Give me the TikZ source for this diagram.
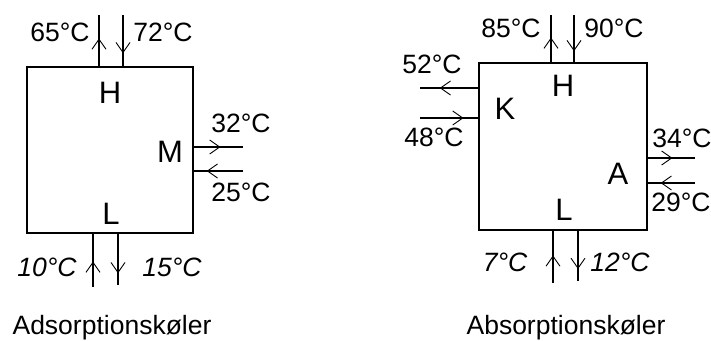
\documentclass[tikz,border=0pt]{standalone}
\usepackage{fontspec}
\setmainfont{Liberation Sans}
\usepackage{tikz}
\usetikzlibrary{arrows.meta,decorations.markings}

\tikzset{
  chev/.tip={Straight Barb[length=10pt,width=14pt,line width=0.9pt]},
  pipe/.style={line width=2.4pt,
    decoration={markings, mark=at position #1 with {\arrow{chev}}},
    postaction=decorate},
  unit/.style={draw, line width=2pt, inner sep=0pt, minimum height=167pt},
  temp/.style={font=\fontsize{26.5}{30}\selectfont},
  itemp/.style={font=\fontsize{26.5}{30}\selectfont\itshape},
  part/.style={font=\fontsize{31}{36}\selectfont},
  title/.style={font=\fontsize{26.5}{30}\selectfont, anchor=base},
}

\begin{document}
\begin{tikzpicture}[x=1pt, y=-1pt]
  \useasboundingbox (0,0) rectangle (711,340);

  % Adsorption chiller
  \node[unit, minimum width=166pt, minimum height=166pt] (ads) at (110,150) {};
  \node[part] (adsH) at (110,93) {H};
  \node[part] (adsM) at (170,152) {M};
  \node[part] (adsL) at (111,214) {L};

  % H: drive heat
  \coordinate (adsHout) at (99,15);
  \coordinate (adsHin) at (123,15);
  \draw[pipe=0.54] (adsHout |- ads.north) -- (adsHout);
  \draw[pipe=0.75] (adsHin) -- (adsHin |- ads.north);
  \node[temp] (t65) at (60,32) {65°C};
  \node[temp] (t72) at (163,32) {72°C};

  % M: cooling water
  \coordinate (adsMout) at (243,147);
  \coordinate (adsMin) at (243,171);
  \draw[pipe=0.54] (ads.east |- adsMout) -- (adsMout);
  \draw[pipe=0.74] (adsMin) -- (ads.east |- adsMin);
  \node[temp] (t32) at (241,123) {32°C};
  \node[temp] (t25) at (241,192) {25°C};

  % L: chilled water
  \coordinate (adsLin) at (93,287);
  \coordinate (adsLout) at (118,285);
  \draw[pipe=0.48] (adsLin) -- (adsLin |- ads.south);
  \draw[pipe=0.77] (adsLout |- ads.south) -- (adsLout);
  \node[itemp] (t10) at (47,267) {10°C};
  \node[itemp] (t15) at (172,267) {15°C};

  \node[title] (adsname) at (112,334) {Adsorptionskøler};

  % Absorption chiller
  \node[unit, minimum width=168pt] (abs) at (563,146.5) {};
  \node[part] (absH) at (563,86) {H};
  \node[part] (absK) at (505,109) {K};
  \node[part] (absA) at (618,174) {A};
  \node[part] (absL) at (564,210) {L};

  % H: drive heat
  \coordinate (absHout) at (551,15);
  \coordinate (absHin) at (574,15);
  \draw[pipe=0.52] (absHout |- abs.north) -- (absHout);
  \draw[pipe=0.77] (absHin) -- (absHin |- abs.north);
  \node[temp] (t85) at (511,28) {85°C};
  \node[temp] (t90) at (614,28) {90°C};

  % K: condenser
  \coordinate (absKout) at (420,88);
  \coordinate (absKin) at (420,118);
  \draw[pipe=0.66] (abs.west |- absKout) -- (absKout);
  \draw[pipe=0.75] (absKin) -- (abs.west |- absKin);
  \node[temp] (t52) at (432,64) {52°C};
  \node[temp] (t48) at (434,137) {48°C};

  % A: absorber
  \coordinate (absAout) at (695,158);
  \coordinate (absAin) at (695,183);
  \draw[pipe=0.52] (abs.east |- absAout) -- (absAout);
  \draw[pipe=0.73] (absAin) -- (abs.east |- absAin);
  \node[temp] (t34) at (682,138) {34°C};
  \node[temp] (t29) at (681,202) {29°C};

  % L: chilled water
  \coordinate (absLin) at (553,283);
  \coordinate (absLout) at (578,281);
  \draw[pipe=0.53] (absLin) -- (absLin |- abs.south);
  \draw[pipe=0.76] (absLout |- abs.south) -- (absLout);
  \node[itemp] (t7) at (505,262) {7°C};
  \node[itemp] (t12) at (620,262) {12°C};

  \node[title] (absname) at (566,334) {Absorptionskøler};
\end{tikzpicture}
\end{document}
